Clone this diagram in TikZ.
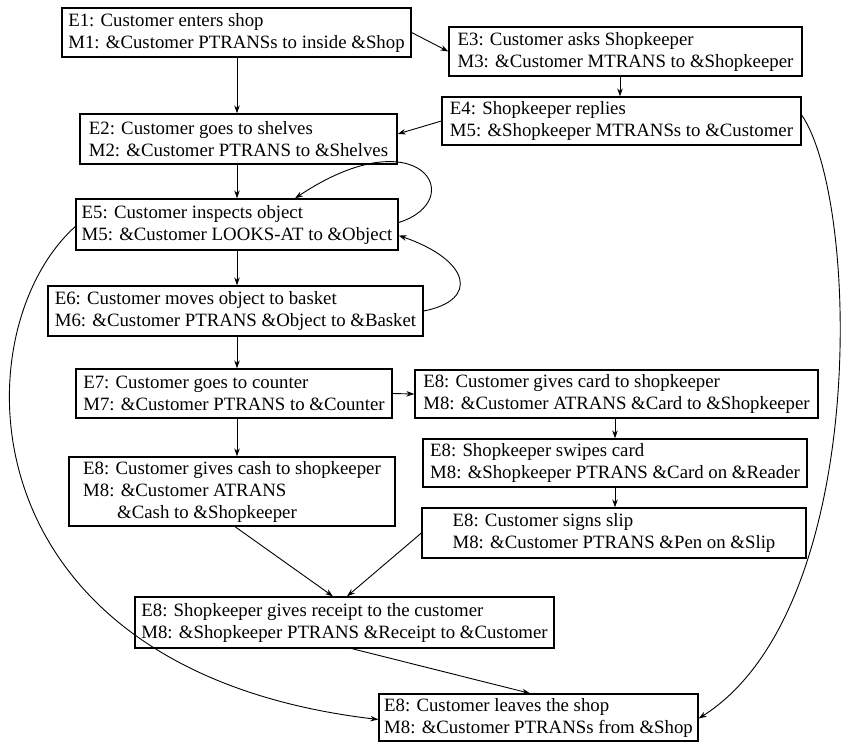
\documentclass[tikz,border=0pt]{standalone}
\usepackage{fontspec}
\setmainfont{Liberation Serif}
\usetikzlibrary{arrows.meta,calc}
\begin{document}
\begin{tikzpicture}[x=1pt,y=-1pt,
  ev/.style={draw, line width=1.3pt, align=left, inner xsep=0pt, inner ysep=0pt,
    font=\fontsize{18.8}{22}\selectfont},
  arr/.style={-{Stealth[length=8pt,width=5.5pt]}, line width=0.9pt},
]
\useasboundingbox[fill=white] (0,0) rectangle (848,744);

\node[ev, minimum width=349pt, minimum height=49pt] (E1) at (236.5,32.5)
  {E1: Customer enters shop\\M1: \&Customer PTRANSs to inside \&Shop};
\node[ev, minimum width=353pt, minimum height=49pt] (E3) at (625.5,51.5)
  {E3: Customer asks Shopkeeper\\M3: \&Customer MTRANS to \&Shopkeeper};
\node[ev, minimum width=359pt, minimum height=48pt] (E4) at (621.5,121)
  {E4: Shopkeeper replies\\M5: \&Shopkeeper MTRANSs to \&Customer};
\node[ev, minimum width=317pt, minimum height=50pt] (E2) at (238.5,139)
  {E2: Customer goes to shelves\\M2: \&Customer PTRANS to \&Shelves};
\node[ev, minimum width=322pt, minimum height=51pt] (E5) at (237,224.5)
  {E5: Customer inspects object\\M5: \&Customer LOOKS-AT to \&Object};
\node[ev, minimum width=375pt, minimum height=50pt] (E6) at (235.5,311)
  {E6: Customer moves object to basket\\M6: \&Customer PTRANS \&Object to \&Basket};
\node[ev, minimum width=316pt, minimum height=49pt] (E7) at (234,393.5)
  {E7: Customer goes to counter\\M7: \&Customer PTRANS to \&Counter};
\node[ev, minimum width=326pt, minimum height=69pt] (cash) at (232,491.5)
  {E8: Customer gives cash to shopkeeper\\M8: \&Customer ATRANS\\\hspace*{34pt}\&Cash to \&Shopkeeper};
\node[ev, minimum width=403pt, minimum height=48pt] (card) at (616.5,394)
  {E8: Customer gives card to shopkeeper\\M8: \&Customer ATRANS \&Card to \&Shopkeeper};
\node[ev, minimum width=384pt, minimum height=48pt] (swipe) at (615,463)
  {E8: Shopkeeper swipes card\\M8: \&Shopkeeper PTRANS \&Card on \&Reader};
\node[ev, minimum width=384pt, minimum height=50pt] (sign) at (614,533)
  {E8: Customer signs slip\\M8: \&Customer PTRANS \&Pen on \&Slip};
\node[ev, minimum width=419pt, minimum height=51pt] (receipt) at (344.5,622.5)
  {E8: Shopkeeper gives receipt to the customer\\M8: \&Shopkeeper PTRANS \&Receipt to \&Customer};
\node[ev, minimum width=319pt, minimum height=47pt] (leaves) at (538.5,717.5)
  {E8: Customer leaves the shop\\M8: \&Customer PTRANSs from \&Shop};

\coordinate (spine) at (237,0);
\coordinate (rspine) at (620,0);
\coordinate (cspine) at (615,0);

\draw[arr] (E1.south -| spine) -- (E2.north -| spine);
\draw[arr] (E1.east) -- (E3.west);
\draw[arr] (E3.south -| rspine) -- (E4.north -| rspine);
\draw[arr] (E4.west) -- ([yshift=5pt]E2.east);
\draw[arr] ([yshift=6pt]E4.east) .. controls (860,200) and (870,610) .. ([yshift=-1pt]leaves.east);
\draw[arr] (E2.south -| spine) -- (E5.north -| spine);
\draw[arr] ([yshift=2pt]E5.east) .. controls (470,200) and (420,115) .. ([xshift=58pt]E5.north);
\draw[arr] (E6.east) .. controls (480,300) and (470,260) .. ([yshift=-11pt]E5.east);
\draw[arr] (E5.south -| spine) -- (E6.north -| spine);
\draw[arr] ([yshift=-2pt]E5.west) .. controls (-40,330) and (-40,670) .. ([yshift=-2pt]leaves.west);
\draw[arr] (E6.south -| spine) -- (E7.north -| spine);
\draw[arr] (E7.east) -- (card.west);
\draw[arr] (E7.south -| spine) -- (cash.north -| spine);
\draw[arr] (card.south -| cspine) -- (swipe.north -| cspine);
\draw[arr] (swipe.south -| cspine) -- (sign.north -| cspine);
\draw[arr] ([xshift=3pt]cash.south) -- ([xshift=-11.5pt]receipt.north);
\draw[arr] (sign.west) -- ([xshift=2.5pt]receipt.north);
\draw[arr] ([xshift=7.5pt]receipt.south) -- ([xshift=-8.5pt]leaves.north);
\end{tikzpicture}
\end{document}
